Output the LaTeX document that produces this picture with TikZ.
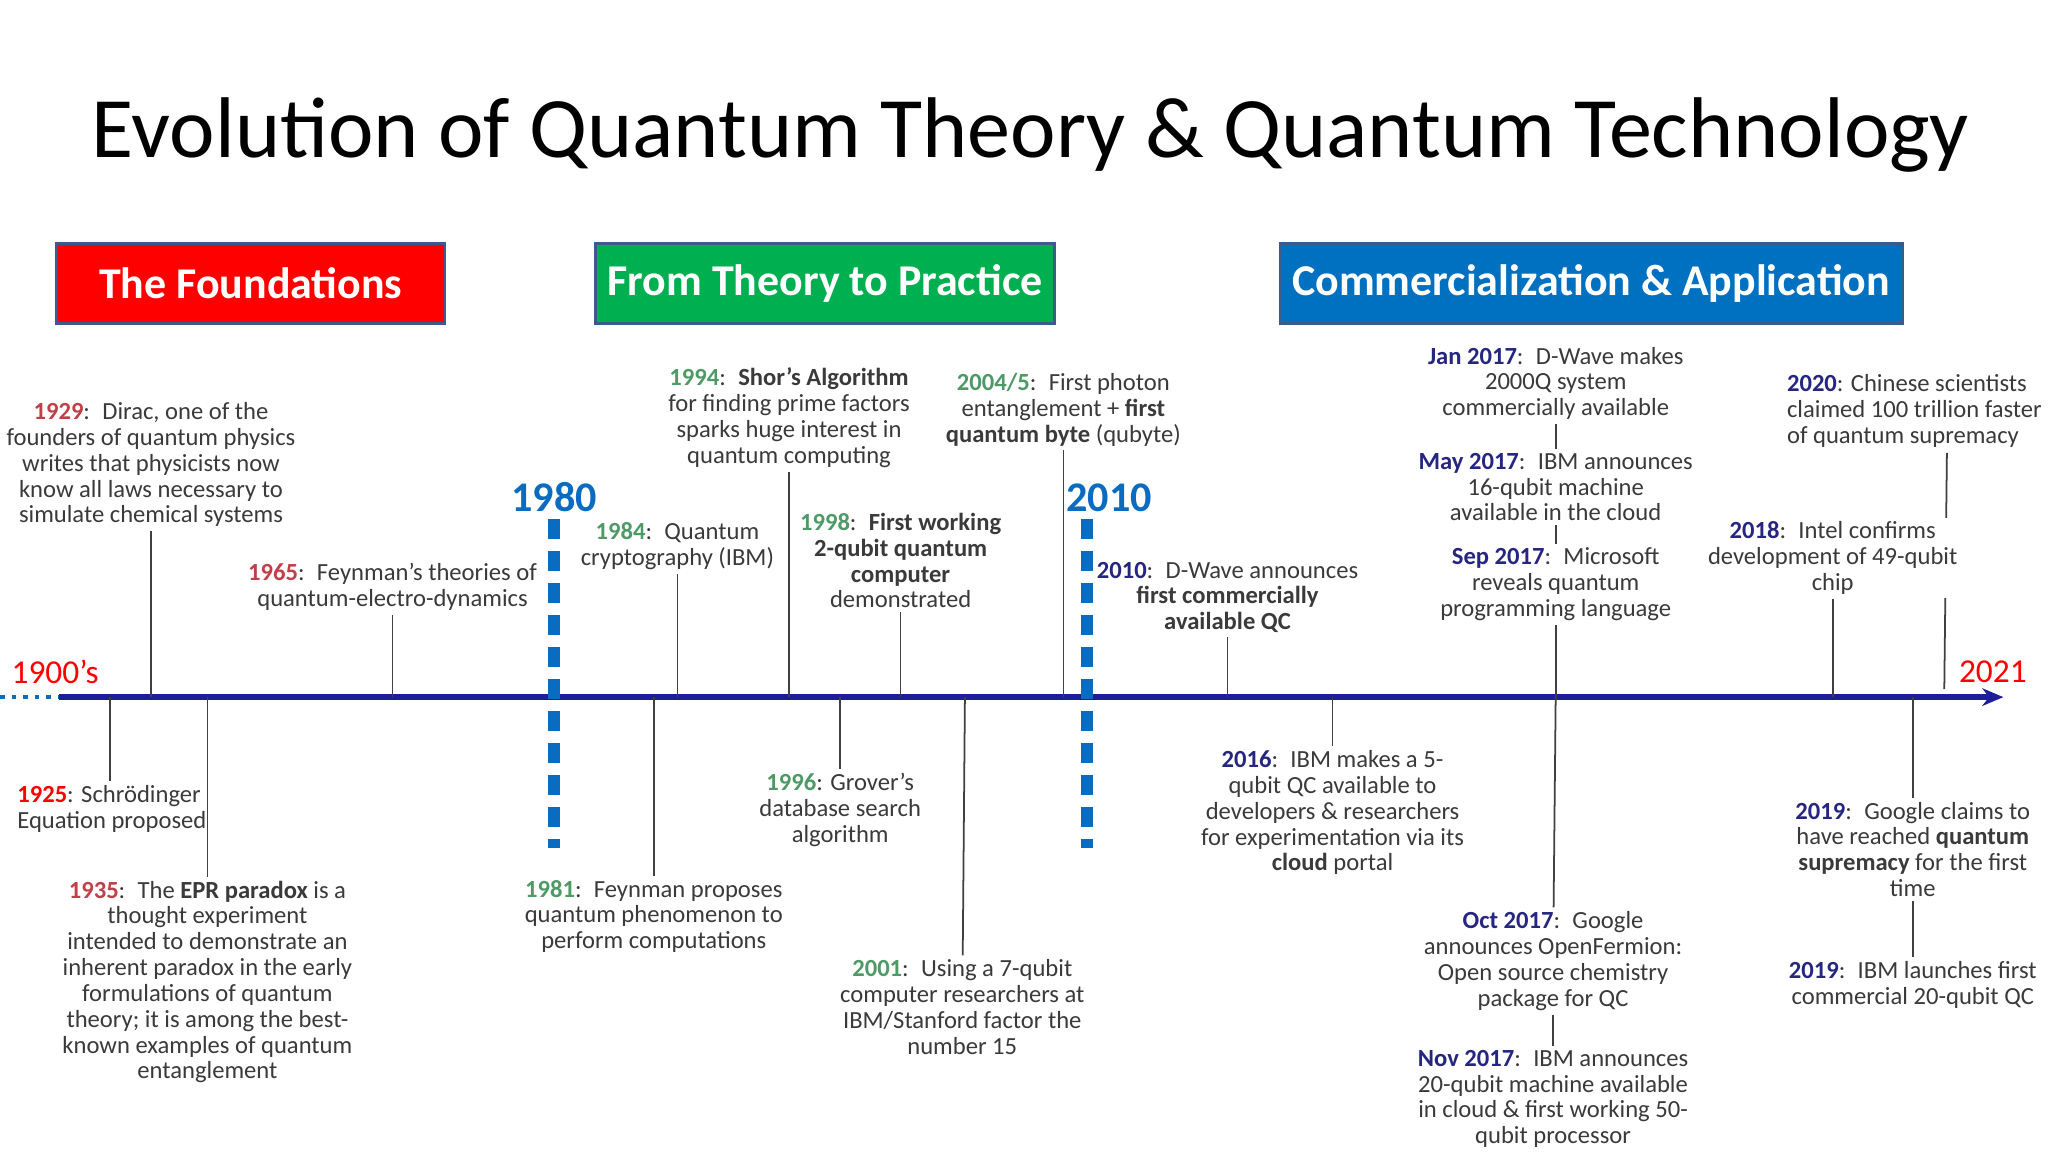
\documentclass[tikz,border=0pt]{standalone}
\usepackage{fontspec}
\setmainfont{Carlito}
\usetikzlibrary{arrows.meta}
\definecolor{txt}{HTML}{3A3A3A}
\definecolor{yred}{HTML}{C0404A}
\definecolor{ygreen}{HTML}{4E9A66}
\definecolor{ynavy}{HTML}{262680}
\definecolor{axisblue}{HTML}{1E1E9A}
\definecolor{dashblue}{HTML}{0A6CC0}
\definecolor{boxred}{HTML}{FF0000}
\definecolor{boxgreen}{HTML}{00B050}
\definecolor{boxblue}{HTML}{0070C0}
\definecolor{boxedge}{HTML}{3E5A8C}
\newcommand{\yr}[1]{\textcolor{yred}{\textbf{#1}}}
\newcommand{\yg}[1]{\textcolor{ygreen}{\textbf{#1}}}
\newcommand{\yn}[1]{\textcolor{ynavy}{\textbf{#1}}}
\tikzset{
  ev/.style={font=\fontsize{7}{7.35}\selectfont, align=center, inner sep=1pt, text=txt},
  hdr/.style={draw=boxedge, line width=0.8pt, minimum height=0.8cm, text=white, font=\fontsize{12.5}{14}\selectfont\bfseries},
  stem/.style={draw=black!75, line width=0.5pt},
  era/.style={dashblue, line width=3.2pt, dash pattern=on 0.2cm off 0.12cm},
  eralbl/.style={text=dashblue, font=\fontsize{12}{14}\selectfont\bfseries, inner sep=0pt},
  endlbl/.style={text=red, font=\fontsize{9.5}{11}\selectfont, inner sep=0pt}
}
\begin{document}
\begin{tikzpicture}[x=0.01313cm, y=-0.01313cm]
\useasboundingbox[fill=white] (0,0) rectangle (1560,877.4);
\node[inner sep=0, font=\fontsize{24.5}{28}\selectfont, text=black] (title) at (785,103) {Evolution of Quantum Theory \& Quantum Technology};
% headers
\node[hdr, fill=boxred, minimum width=296*0.01313cm, minimum height=61*0.01313cm] (h1) at (191,216) {The Foundations};
\node[hdr, fill=boxgreen, minimum width=349*0.01313cm, minimum height=61*0.01313cm] (h2) at (628.5,216) {From Theory to Practice};
\node[hdr, fill=boxblue, minimum width=474*0.01313cm, minimum height=61*0.01313cm] (h3) at (1212,216) {Commercialization \& Application};
% axis
\coordinate (a0) at (0,531);
\coordinate (a1) at (85,531);
\coordinate (a2) at (45,531);
\coordinate (aend) at (1526,531);
\draw[dashblue, line width=1.3pt, dotted] (a0) -- (a1);
\draw[axisblue, line width=1.6pt, -{Stealth[length=6pt,width=5pt]}] (a2) -- (aend);
\node[endlbl] (l1900) at (42,512) {1900’s};
\node[endlbl] (l2021) at (1518,512) {2021};
% eras
\coordinate (e1t) at (422,395); \coordinate (e1b) at (422,646);
\coordinate (e2t) at (828,395); \coordinate (e2b) at (828,646);
\draw[era] (e1t) -- (e1b);
\draw[era] (e2t) -- (e2b);
\node[eralbl] (l1980) at (422,379) {1980};
\node[eralbl] (l2010) at (845,379) {2010};
% axis points
\foreach \n/\x in {p1929/115,p1965/299,p1984/516,p1994/601,p1998/686,p2004/810,p2010/935,p2017/1185,p2018/1396,p2020/1483,
 p1925/84,p1935/158,p1981/498,p1996/640,p2001/735,p2016/1015,p2019/1457}
  \coordinate (\n) at (\x,531);
% events above
\node[ev] (n1929) at (115,354) {\yr{1929}:\enspace Dirac, one of the\\founders of quantum physics\\writes that physicists now\\know all laws necessary to\\simulate chemical systems};
\node[ev] (n1965) at (299,447) {\yr{1965}:\enspace Feynman’s theories of\\quantum-electro-dynamics};
\node[ev] (n1984) at (516,416) {\yg{1984}:\enspace Quantum\\cryptography (IBM)};
\node[ev] (n1994) at (601,318) {\yg{1994}:\enspace\textbf{Shor’s Algorithm}\\for finding prime factors\\sparks huge interest in\\quantum computing};
\node[ev] (n1998) at (686,427) {\yg{1998}:\enspace\textbf{First working}\\\textbf{2-qubit quantum}\\\textbf{computer}\\demonstrated};
\node[ev] (n2004) at (810,312) {\yg{2004/5}:\enspace First photon\\entanglement + \textbf{first}\\\textbf{quantum byte} (qubyte)};
\node[ev] (n2010) at (935,455) {\yn{2010}:\enspace D-Wave announces\\\textbf{first commercially}\\\textbf{available QC}};
\node[ev] (nj17) at (1185,292) {\yn{Jan 2017}:\enspace D-Wave makes\\2000Q system\\commercially available};
\node[ev] (nm17) at (1185,371) {\yn{May 2017}:\enspace IBM announces\\16-qubit machine\\available in the cloud};
\node[ev] (ns17) at (1185,445) {\yn{Sep 2017}:\enspace Microsoft\\reveals quantum\\programming language};
\node[ev, fill=white] (n2018) at (1396,425) {\yn{2018}:\enspace Intel confirms\\development of 49-qubit\\chip};
\node[ev, align=left, anchor=west] (n2020) at (1358,313) {\yn{2020}: Chinese scientists\\claimed 100 trillion faster\\of quantum supremacy};
% events below
\node[ev, align=left, anchor=north west] (n1925) at (10,595) {\textcolor{red}{\textbf{1925}}: Schrödinger\\Equation proposed};
\node[ev] (n1935) at (158,748) {\yr{1935}:\enspace The \textbf{EPR paradox} is a\\thought experiment\\intended to demonstrate an\\inherent paradox in the early\\formulations of quantum\\theory; it is among the best-\\known examples of quantum\\entanglement};
\node[ev] (n1981) at (498,698) {\yg{1981}:\enspace Feynman proposes\\quantum phenomenon to\\perform computations};
\node[ev] (n1996) at (640,617) {\yg{1996}: Grover’s\\database search\\algorithm};
\node[ev] (n2001) at (733,767) {\yg{2001}:\enspace Using a 7-qubit\\computer researchers at\\IBM/Stanford factor the\\number 15};
\node[ev] (n2016) at (1015,619) {\yn{2016}:\enspace IBM makes a 5-\\qubit QC available to\\developers \& researchers\\for experimentation via its\\\textbf{cloud} portal};
\node[ev] (no17) at (1183,732) {\yn{Oct 2017}:\enspace Google\\announces OpenFermion:\\Open source chemistry\\package for QC};
\node[ev] (nn17) at (1183,837) {\yn{Nov 2017}:\enspace IBM announces\\20-qubit machine available\\in cloud \& first working 50-\\qubit processor};
\node[ev] (ng19) at (1457,647) {\yn{2019}:\enspace Google claims to\\have reached \textbf{quantum}\\\textbf{supremacy} for the first\\time};
\node[ev] (ni19) at (1457,750) {\yn{2019}:\enspace IBM launches first\\commercial 20-qubit QC};
% stems
\foreach \n in {1929,1965,1984,1994,1998,2004,2010,2018}
  \draw[stem] (n\n.south |- 0,{0}) ++(0,0);
\draw[stem] (p1929) -- (n1929);
\draw[stem] (p1965) -- (n1965);
\draw[stem] (p1984) -- (n1984);
\draw[stem] (p1994) -- (n1994);
\draw[stem] (p1998) -- (n1998);
\draw[stem] (p2004) -- (n2004);
\draw[stem] (p2010) -- (n2010);
\draw[stem] (p2017) -- (ns17);
\draw[stem] (ns17) -- (nm17);
\draw[stem] (nm17) -- (nj17);
\draw[stem] (p2018) -- (n2018);
\coordinate (c2020t) at (1483,345);
\coordinate (c2020b) at (1481,525);
\draw[stem] (c2020t) -- (c2020b);
\node[ev, fill=white] at (n2018) {\yn{2018}:\enspace Intel confirms\\development of 49-qubit\\chip};
\draw[stem] (p1925) -- (n1925.north -| p1925);
\draw[stem] (p1935) -- (n1935);
\draw[stem] (p1981) -- (n1981);
\draw[stem] (p1996) -- (n1996);
\draw[stem] (p2001) -- (n2001);
\draw[stem] (p2016) -- (n2016);
\draw[stem] (p2017) -- (no17);
\draw[stem] (no17) -- (nn17);
\draw[stem] (p2019) -- (ng19);
\draw[stem] (ng19) -- (ni19);
\end{tikzpicture}
\end{document}
